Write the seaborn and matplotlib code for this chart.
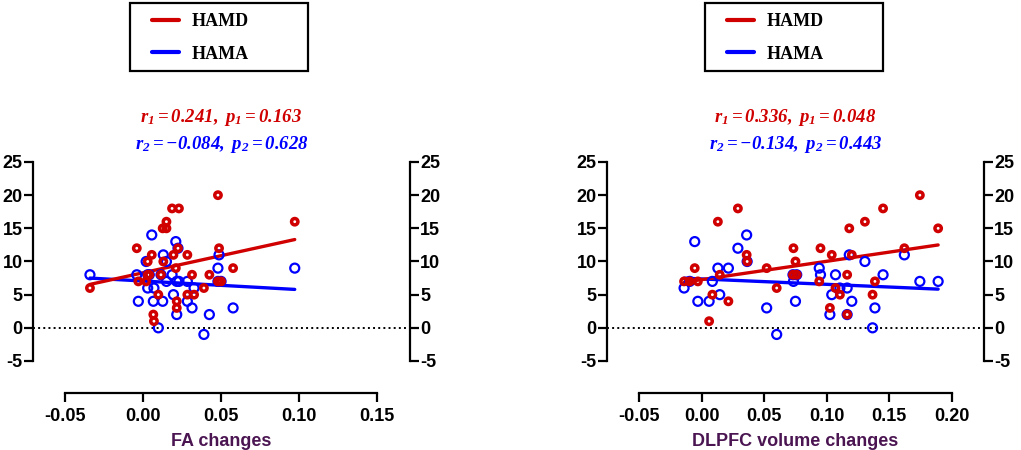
import numpy as np
import pandas as pd
import seaborn as sns
import matplotlib.pyplot as plt
from matplotlib.lines import Line2D
from matplotlib.patches import Rectangle

# FA panel: same subjects for both scales
fa_x = [-0.034, -0.004, -0.003, 0.002, 0.003, 0.004, 0.0056, 0.0066, 0.007, 0.0098,
        0.0115, 0.0126, 0.013, 0.015, 0.015, 0.0186, 0.0195, 0.021, 0.0216, 0.0216,
        0.0224, 0.023, 0.0284, 0.0284, 0.0314, 0.0327, 0.039, 0.0425, 0.048, 0.0487,
        0.048, 0.050, 0.0577, 0.0972, 0.003]
fa_hamd = [6, 12, 7, 7, 10, 8, 11, 2, 1, 5,
           8, 15, 10, 15, 16, 18, 11, 9, 4, 3,
           12, 18, 11, 5, 8, 5, 6, 8, 20, 12,
           7, 7, 9, 16, 8]
fa_hama = [8, 8, 4, 10, 6, 8, 14, 4, 6, 0,
           8, 4, 11, 7, 10, 8, 5, 13, 2, 7,
           12, 7, 7, 4, 3, 6, -1, 2, 9, 11,
           7, 7, 3, 9, 8]

# DLPFC panel
dl_x = [-0.014, -0.0095, -0.0055, -0.003, 0.006, 0.0086, 0.013, 0.0145, 0.0214, 0.029,
        0.036, 0.0364, 0.052, 0.060, 0.0734, 0.075, 0.073, 0.076, 0.094, 0.095,
        0.1025, 0.104, 0.107, 0.1105, 0.1163, 0.1163, 0.118, 0.120, 0.1305, 0.1366,
        0.1385, 0.145, 0.162, 0.1744, 0.189]
dl_hamd = [7, 7, 9, 7, 1, 5, 16, 8, 4, 18,
           11, 10, 9, 6, 12, 10, 8, 8, 7, 12,
           3, 11, 6, 5, 8, 2, 15, 11, 16, 5,
           7, 18, 12, 20, 15]
dl_hama = [6, 7, 13, 4, 4, 7, 9, 5, 9, 12,
           14, 10, 3, -1, 7, 4, 8, 8, 9, 8,
           2, 5, 8, 6, 6, 2, 11, 4, 10, 0,
           3, 8, 11, 7, 7]

stats_fa = ['$r_1 = 0.241,\\ p_1 = 0.163$', '$r_2 = -0.084,\\ p_2 = 0.628$']
stats_dl = ['$r_1 = 0.336,\\ p_1 = 0.048$', '$r_2 = -0.134,\\ p_2 = 0.443$']

RED = '#D00000'
BLUE = '#0000FF'
LABEL_COLOR = '#4B1552'

sns.set_style("ticks")
plt.rcParams['font.family'] = ['Liberation Sans', 'DejaVu Sans']
plt.rcParams['font.weight'] = 'bold'
plt.rcParams['mathtext.fontset'] = 'custom'
plt.rcParams['mathtext.rm'] = 'Liberation Serif:bold:italic'
plt.rcParams['mathtext.it'] = 'Liberation Serif:bold:italic'
plt.rcParams['mathtext.bf'] = 'Liberation Serif:bold:italic'

fig = plt.figure(figsize=(10.21, 4.5), dpi=100)
ax1 = fig.add_axes([0.0323, 0.1978, 0.3692, 0.4422])
ax2 = fig.add_axes([0.5945, 0.1978, 0.3692, 0.4422])

# (axes, x, hamd, hama, xlabel, xlim, xticks, stats, legend box left, legend handle left)
panels = [
    (ax1, fa_x, fa_hamd, fa_hama, 'FA changes', (-0.0705, 0.171),
     [-0.05, 0.00, 0.05, 0.10, 0.15], stats_fa, 0.1273, 0.1489),
    (ax2, dl_x, dl_hamd, dl_hama, 'DLPFC volume changes', (-0.0756, 0.2256),
     [-0.05, 0.00, 0.05, 0.10, 0.15, 0.20], stats_dl, 0.6905, 0.7120),
]

for ax, x, hamd, hama, xlabel, xlim, xticks, stats, box_x, leg_x in panels:
    df = pd.DataFrame({'x': x, 'HAMD': hamd, 'HAMA': hama})
    ax.axhline(0, color='black', ls=':', lw=1.4, zorder=1)
    sns.regplot(data=df, x='x', y='HAMA', scatter=False, ci=None, color=BLUE,
                line_kws={'lw': 2.4}, ax=ax)
    sns.regplot(data=df, x='x', y='HAMD', scatter=False, ci=None, color=RED,
                line_kws={'lw': 2.4}, ax=ax)
    sns.scatterplot(data=df, x='x', y='HAMA', marker='o', s=42, facecolors='none',
                    edgecolors=BLUE, linewidth=1.6, ax=ax, zorder=3)
    sns.scatterplot(data=df, x='x', y='HAMD', marker='o', s=21, facecolors='none',
                    edgecolors=RED, linewidth=2.5, ax=ax, zorder=4)

    ax.set_xlim(*xlim)
    ax.set_ylim(-5, 25)
    ax.set_xticks(xticks)
    ax.set_xticklabels(['%.2f' % t for t in xticks])
    ax.set_yticks([-5, 0, 5, 10, 15, 20, 25])
    ax.set_yticklabels(['-5', '0', '5', '10', '15', '20', '25'])
    ax.set_ylabel('')
    ax.set_xlabel(xlabel, fontsize=13, color=LABEL_COLOR, fontweight='bold', labelpad=6)

    for side in ['left', 'right', 'bottom']:
        ax.spines[side].set_visible(True)
        ax.spines[side].set_linewidth(1.6)
        ax.spines[side].set_color('black')
    ax.spines['top'].set_visible(False)
    ax.spines['bottom'].set_bounds(-0.05, xticks[-1])
    ax.spines['bottom'].set_position(('outward', 23))
    ax.tick_params(axis='both', direction='out', length=6.5, width=1.6, labelsize=13,
                   color='black', labelcolor='black', pad=1)
    ax.tick_params(axis='x', pad=4)
    ax.tick_params(axis='y', right=True, labelright=True)
    for tick in ax.yaxis.get_major_ticks() + ax.xaxis.get_major_ticks():
        tick.label1.set_fontweight('bold')
        tick.label2.set_fontweight('bold')

    handles = [Line2D([], [], color=RED, lw=3), Line2D([], [], color=BLUE, lw=3)]
    leg = ax.legend(handles, ['HAMD', 'HAMA'], loc='center left',
                    bbox_to_anchor=(leg_x, 0.9156), bbox_transform=fig.transFigure,
                    prop={'family': 'Liberation Serif', 'weight': 'bold', 'size': 13},
                    frameon=False, labelcolor='black',
                    handlelength=1.5, handletextpad=0.72, borderpad=0, labelspacing=0.85,
                    borderaxespad=0)
    fig.patches.append(Rectangle((box_x, 0.8422), 0.1743, 0.1511, transform=fig.transFigure,
                                 fill=False, edgecolor='black', linewidth=1.6))

    ax.text(0.5, 1.222, stats[0], transform=ax.transAxes, ha='center', va='center',
            fontsize=13.5, color=RED)
    ax.text(0.5, 1.09, stats[1], transform=ax.transAxes, ha='center', va='center',
            fontsize=13.5, color=BLUE)

fig.savefig('out.png', dpi=100)
